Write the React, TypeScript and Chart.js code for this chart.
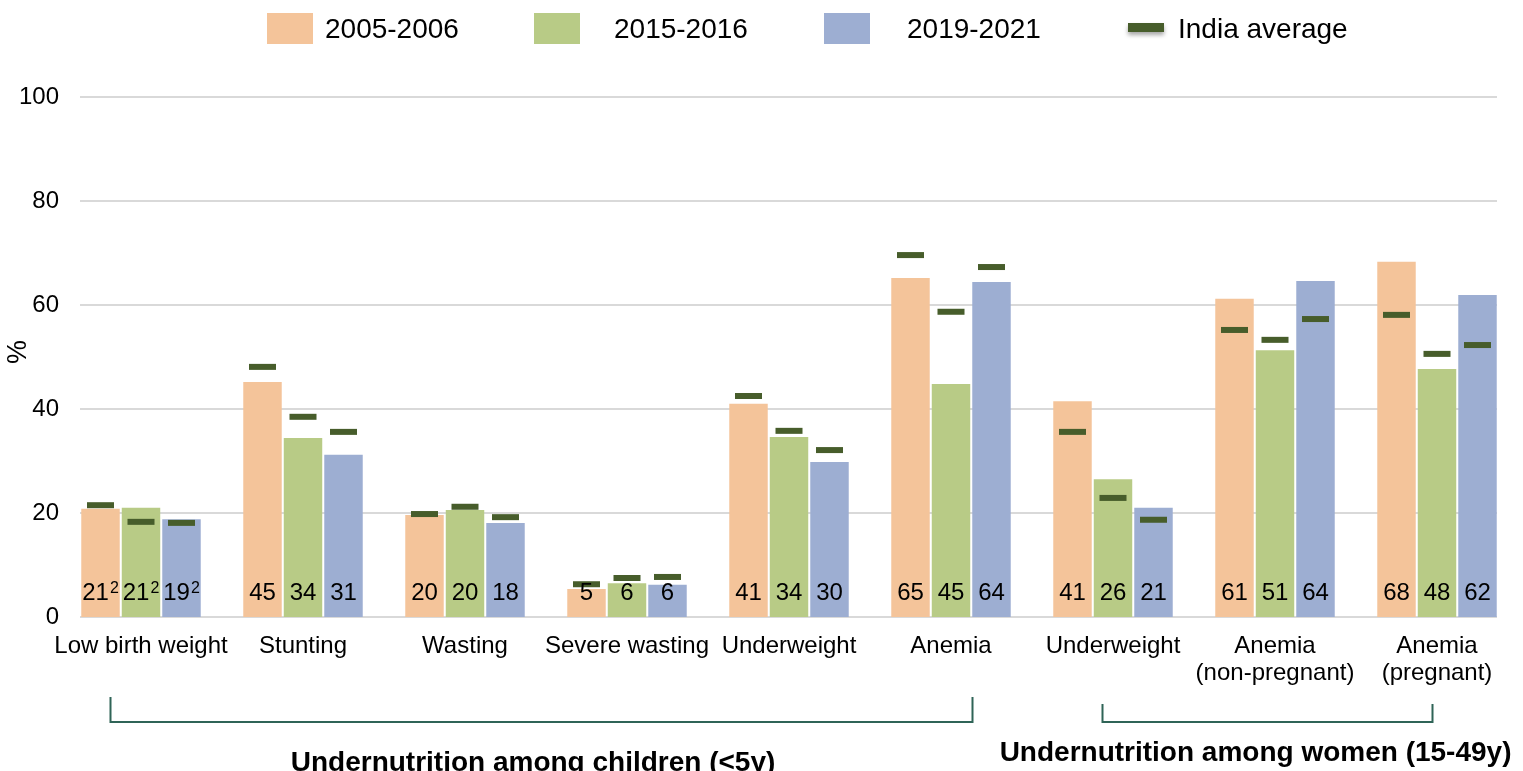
import React, { useEffect, useRef } from "react";
import { Chart, registerables } from "chart.js";

Chart.register(...registerables);

const FONT = '"Liberation Sans", Arial, Helvetica, sans-serif';

const categories: string[][] = [
  ["Low birth weight"],
  ["Stunting"],
  ["Wasting"],
  ["Severe wasting"],
  ["Underweight"],
  ["Anemia"],
  ["Underweight"],
  ["Anemia", "(non-pregnant)"],
  ["Anemia", "(pregnant)"],
];

const seriesNames = ["2005-2006", "2015-2016", "2019-2021"];
const seriesColors = ["#F4C49A", "#B8CB86", "#9DAED2"];
const averageName = "India average";
const averageColor = "#475D2B";

// bar values (%)
const values2005 = [20.8, 45.2, 19.6, 5.4, 41.0, 65.2, 41.5, 61.2, 68.3];
const values2015 = [21.0, 34.4, 20.6, 6.5, 34.6, 44.8, 26.5, 51.3, 47.7];
const values2019 = [18.8, 31.2, 18.1, 6.2, 29.8, 64.4, 21.0, 64.6, 61.9];

// printed value labels
const labels2005 = ["21", "45", "20", "5", "41", "65", "41", "61", "68"];
const labels2015 = ["21", "34", "20", "6", "34", "45", "26", "51", "48"];
const labels2019 = ["19", "31", "18", "6", "30", "64", "21", "64", "62"];
const footnotes = ["2", "", "", "", "", "", "", "", ""];

// India average markers (%)
const avg2005 = [21.5, 48.1, 19.8, 6.3, 42.5, 69.6, 35.6, 55.2, 58.1];
const avg2015 = [18.3, 38.5, 21.2, 7.5, 35.8, 58.7, 22.9, 53.3, 50.6];
const avg2019 = [18.1, 35.6, 19.2, 7.7, 32.1, 67.3, 18.7, 57.3, 52.3];

const yTicks = [0, 20, 40, 60, 80, 100];
const yTitle = "%";

const groupLabels = ["Undernutrition among children (<5y)", "Undernutrition among women (15-49y)"];

const seriesValues = [values2005, values2015, values2019];
const seriesLabels = [labels2005, labels2015, labels2019];
const seriesAverages = [avg2005, avg2015, avg2019];

const customPlugin = {
  id: "customDecor",
  beforeDatasetsDraw(chart: any) {
    const { ctx, chartArea, scales } = chart;
    const y = scales.y;
    ctx.save();
    ctx.strokeStyle = "#D9D9D9";
    ctx.lineWidth = 2;
    yTicks.forEach((v) => {
      const py = Math.round(y.getPixelForValue(v));
      ctx.beginPath();
      ctx.moveTo(chartArea.left + 20, py);
      ctx.lineTo(chartArea.right - 21, py);
      ctx.stroke();
    });
    ctx.restore();
  },
  afterDatasetsDraw(chart: any) {
    const { ctx, scales } = chart;
    const y = scales.y;
    ctx.save();
    // India average markers
    seriesAverages.forEach((arr, si) => {
      const meta = chart.getDatasetMeta(si);
      arr.forEach((v, i) => {
        const bar = meta.data[i];
        const py = y.getPixelForValue(v);
        ctx.fillStyle = averageColor;
        ctx.fillRect(bar.x - 13.5, py - 3, 27, 6);
      });
    });
    // value labels
    const base = y.getPixelForValue(0) - 17;
    ctx.fillStyle = "#000";
    ctx.textBaseline = "alphabetic";
    seriesLabels.forEach((arr, si) => {
      const meta = chart.getDatasetMeta(si);
      arr.forEach((txt, i) => {
        const bar = meta.data[i];
        const sup = footnotes[i];
        ctx.font = `24px ${FONT}`;
        const w1 = ctx.measureText(txt).width;
        ctx.font = `16px ${FONT}`;
        const w2 = sup ? ctx.measureText(sup).width + 1 : 0;
        const start = bar.x - (w1 + w2) / 2;
        ctx.textAlign = "left";
        ctx.font = `24px ${FONT}`;
        ctx.fillText(txt, start, base);
        if (sup) {
          ctx.font = `16px ${FONT}`;
          ctx.fillText(sup, start + w1 + 1, base - 7);
        }
      });
    });
    ctx.restore();
  },
  afterDraw(chart: any) {
    const { ctx, scales } = chart;
    const x = scales.x;
    ctx.save();
    // legend
    ctx.font = `28px ${FONT}`;
    ctx.textBaseline = "middle";
    ctx.textAlign = "left";
    const sq = [267, 534, 824];
    const tx = [325, 614, 907];
    seriesNames.forEach((n, i) => {
      ctx.fillStyle = seriesColors[i];
      ctx.fillRect(sq[i], 13, 46, 31);
      ctx.fillStyle = "#000";
      ctx.fillText(n, tx[i], 30);
    });
    ctx.save();
    ctx.shadowColor = "rgba(0,0,0,0.35)";
    ctx.shadowBlur = 4;
    ctx.shadowOffsetY = 3;
    ctx.fillStyle = averageColor;
    ctx.fillRect(1128, 23, 36, 9);
    ctx.restore();
    ctx.fillStyle = "#000";
    ctx.fillText(averageName, 1178, 30);

    // y title
    ctx.save();
    ctx.translate(19, 352);
    ctx.rotate(-Math.PI / 2);
    ctx.textAlign = "center";
    ctx.textBaseline = "middle";
    ctx.font = `27px ${FONT}`;
    ctx.fillStyle = "#000";
    ctx.fillText(yTitle, 0, 0);
    ctx.restore();

    // brackets
    ctx.strokeStyle = "#2F6457";
    ctx.lineWidth = 2;
    const brackets = [
      { a: -0.19, b: 5.13, top: 697 },
      { a: 5.93, b: 7.97, top: 704 },
    ];
    brackets.forEach((br) => {
      const xa = Math.round(x.getPixelForValue(br.a)) + 0.5;
      const xb = Math.round(x.getPixelForValue(br.b)) + 0.5;
      ctx.beginPath();
      ctx.moveTo(xa, br.top);
      ctx.lineTo(xa, 722);
      ctx.lineTo(xb, 722);
      ctx.lineTo(xb, br.top);
      ctx.stroke();
    });

    // group labels
    ctx.font = `bold 28px ${FONT}`;
    ctx.textAlign = "center";
    ctx.textBaseline = "alphabetic";
    ctx.fillStyle = "#000";
    ctx.fillText(groupLabels[0], x.getPixelForValue(2.42), 771);
    ctx.fillText(groupLabels[1], x.getPixelForValue(6.88), 761);
    ctx.restore();
  },
};

export default function App() {
  const ref = useRef<HTMLCanvasElement | null>(null);
  useEffect(() => {
    document.body.style.margin = "0";
    document.body.style.overflow = "hidden";
    if (!ref.current) return;
    const chart = new Chart(ref.current, {
      type: "bar",
      data: {
        labels: categories,
        datasets: seriesNames.map((n, i) => ({
          label: n,
          data: seriesValues[i],
          backgroundColor: seriesColors[i],
          borderWidth: 0,
          categoryPercentage: 0.75,
          barPercentage: 0.95,
        })),
      },
      options: {
        responsive: false,
        animation: false,
        devicePixelRatio: 1,
        layout: { padding: { left: 0, right: 5, top: 97, bottom: 0 } },
        plugins: { legend: { display: false }, tooltip: { enabled: false } },
        scales: {
          x: {
            grid: { display: false, drawTicks: false },
            border: { display: false },
            ticks: {
              color: "#000",
              font: { family: FONT, size: 24, lineHeight: 1.12 },
              padding: 16,
              maxRotation: 0,
              autoSkip: false,
            },
            afterFit: (s: any) => {
              s.height = 154;
            },
          },
          y: {
            min: 0,
            max: 100,
            afterBuildTicks: (s: any) => {
              s.ticks = yTicks.map((v) => ({ value: v }));
            },
            ticks: { color: "#000", font: { family: FONT, size: 24 }, padding: 1 },
            grid: { display: false, drawTicks: false },
            border: { display: false },
            afterFit: (s: any) => {
              s.width = 60;
            },
          },
        },
      } as any,
      plugins: [customPlugin],
    });
    return () => chart.destroy();
  }, []);
  return <canvas ref={ref} width={1523} height={771} style={{ display: "block" }} />;
}
